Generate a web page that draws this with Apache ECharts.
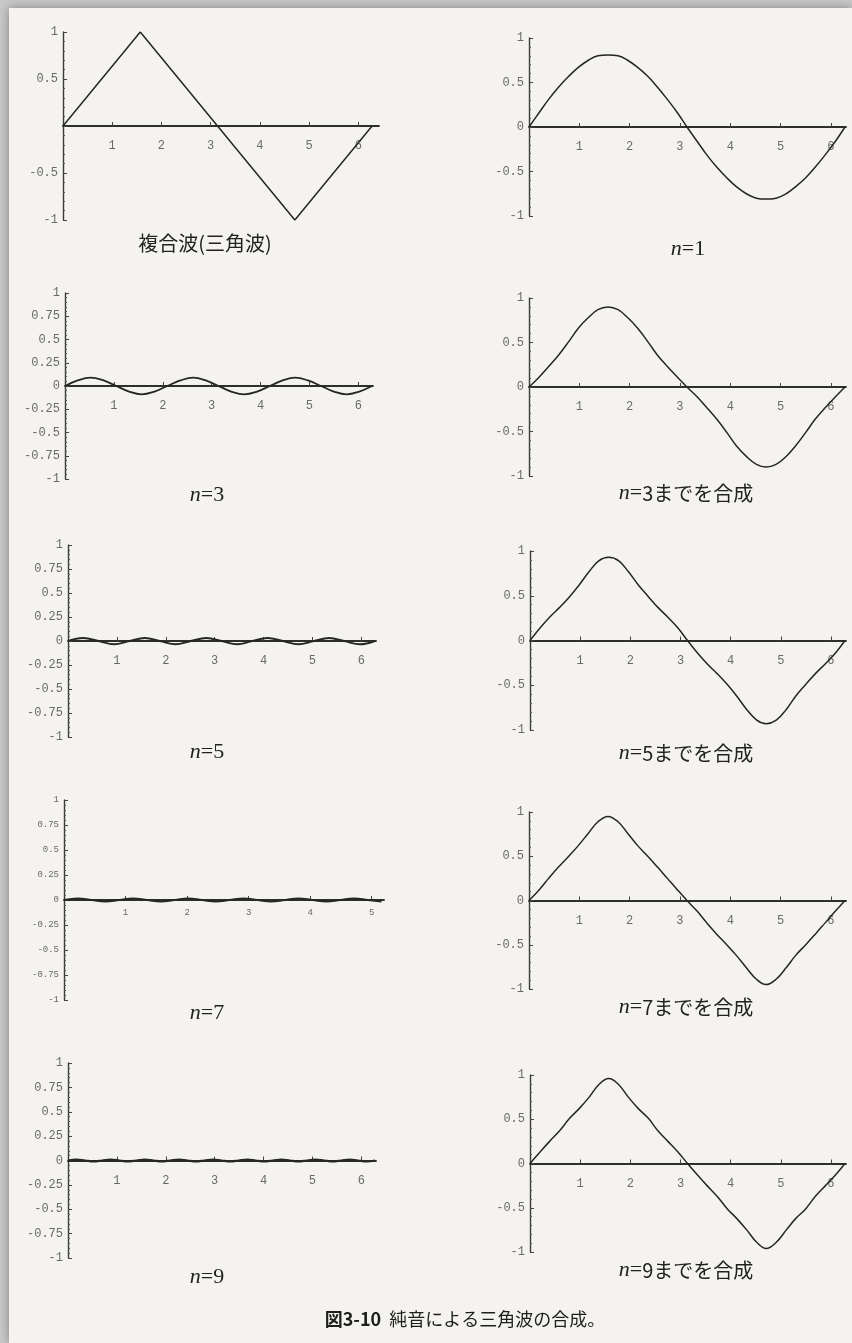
<!DOCTYPE html>
<html>
<head>
<meta charset="utf-8">
<title>図3-10 純音による三角波の合成</title>
<script src="https://cdn.jsdelivr.net/npm/echarts@6/dist/echarts.min.js"></script>
<style>
  html, body { margin: 0; padding: 0; background: #c9c9c9; }
  #chart { width: 852px; height: 1343px; }
</style>
</head>
<body>
<div id="chart"></div>
<script>
// ---- data ----
// triangle wave (complex wave)
var triX = [0, 1.57, 4.71, 6.28];
var triY = [0, 1, -1, 0];

// x positions (radians) for the synthesized curves
var xSum = [0, 0.20, 0.39, 0.59, 0.79, 0.98, 1.18, 1.37, 1.57, 1.77, 1.96, 2.16, 2.36, 2.55, 2.75, 2.95, 3.14,
            3.34, 3.53, 3.73, 3.93, 4.12, 4.32, 4.52, 4.71, 4.91, 5.11, 5.30, 5.50, 5.69, 5.89, 6.09, 6.28];
var sum1 = [0, 0.16, 0.31, 0.45, 0.57, 0.67, 0.75, 0.80, 0.81, 0.80, 0.75, 0.67, 0.57, 0.45, 0.31, 0.16, 0,
            -0.16, -0.31, -0.45, -0.57, -0.67, -0.75, -0.80, -0.81, -0.80, -0.75, -0.67, -0.57, -0.45, -0.31, -0.16, 0];
var sum3 = [0, 0.11, 0.23, 0.36, 0.51, 0.66, 0.78, 0.87, 0.90, 0.87, 0.78, 0.66, 0.51, 0.36, 0.23, 0.11, 0,
            -0.11, -0.23, -0.36, -0.51, -0.66, -0.78, -0.87, -0.90, -0.87, -0.78, -0.66, -0.51, -0.36, -0.23, -0.11, 0];
var sum5 = [0, 0.14, 0.26, 0.37, 0.49, 0.62, 0.77, 0.89, 0.93, 0.89, 0.77, 0.62, 0.49, 0.37, 0.26, 0.14, 0,
            -0.14, -0.26, -0.37, -0.49, -0.62, -0.77, -0.89, -0.93, -0.89, -0.77, -0.62, -0.49, -0.37, -0.26, -0.14, 0];
var sum7 = [0, 0.12, 0.25, 0.38, 0.50, 0.62, 0.76, 0.89, 0.95, 0.89, 0.76, 0.62, 0.50, 0.38, 0.25, 0.12, 0,
            -0.12, -0.25, -0.38, -0.50, -0.62, -0.76, -0.89, -0.95, -0.89, -0.76, -0.62, -0.50, -0.38, -0.25, -0.12, 0];
var sum9 = [0, 0.13, 0.25, 0.37, 0.51, 0.62, 0.75, 0.89, 0.96, 0.89, 0.75, 0.62, 0.51, 0.37, 0.25, 0.13, 0,
            -0.13, -0.25, -0.37, -0.51, -0.62, -0.75, -0.89, -0.96, -0.89, -0.75, -0.62, -0.51, -0.37, -0.25, -0.13, 0];

// single components
var x3 = [0, 0.26, 0.52, 0.79, 1.05, 1.31, 1.57, 1.83, 2.09, 2.36, 2.62, 2.88, 3.14, 3.40, 3.67, 3.93, 4.19,
          4.45, 4.71, 4.97, 5.24, 5.50, 5.76, 6.02, 6.28];
var comp3 = [0, 0.06, 0.09, 0.06, 0, -0.06, -0.09, -0.06, 0, 0.06, 0.09, 0.06, 0, -0.06, -0.09, -0.06, 0,
             0.06, 0.09, 0.06, 0, -0.06, -0.09, -0.06, 0];
var x5 = [0, 0.31, 0.63, 0.94, 1.26, 1.57, 1.88, 2.20, 2.51, 2.83, 3.14, 3.46, 3.77, 4.08, 4.40, 4.71, 5.03,
          5.34, 5.65, 5.97, 6.28];
var comp5 = [0, 0.03, 0, -0.035, 0, 0.03, 0, -0.035, 0, 0.03, 0, -0.035, 0, 0.03, 0, -0.035, 0, 0.03, 0, -0.035, 0];
var x7 = [0, 0.22, 0.45, 0.67, 0.90, 1.12, 1.35, 1.57, 1.80, 2.02, 2.24, 2.47, 2.69, 2.92, 3.14, 3.37, 3.59,
          3.81, 4.04, 4.26, 4.49, 4.71, 4.94, 5.16];
var comp7 = [0, 0.015, 0, -0.015, 0, 0.015, 0, -0.015, 0, 0.015, 0, -0.015, 0, 0.015, 0, -0.015,
             0, 0.015, 0, -0.015, 0, 0.015, 0, -0.015];
var x9 = [0, 0.17, 0.35, 0.52, 0.70, 0.87, 1.05, 1.22, 1.40, 1.57, 1.75, 1.92, 2.09, 2.27, 2.44, 2.62, 2.79,
          2.97, 3.14, 3.32, 3.49, 3.67, 3.84, 4.01, 4.19, 4.36, 4.54, 4.71, 4.89, 5.06, 5.24, 5.41, 5.59,
          5.76, 5.93, 6.11, 6.28];
var comp9 = [0, 0.01, 0, -0.01, 0, 0.01, 0, -0.01, 0, 0.01, 0, -0.01, 0, 0.01, 0, -0.01, 0, 0.01, 0, -0.01,
             0, 0.01, 0, -0.01, 0, 0.01, 0, -0.01, 0, 0.01, 0, -0.01, 0, 0.01, 0, -0.01, 0];

var xTicks = [1, 2, 3, 4, 5, 6];
var xTicks7 = [1, 2, 3, 4, 5];

// ---- layout of the ten panels ----
var panels = [
  {left: 63,  top: 32,   w: 316, h: 188, xMax: 6.42, xt: xTicks,  step: 0.5,  hideZero: true, xs: triX, ys: triY, smooth: false, lw: 1.5, fs: 12,
   cap: '{j|複合波(三角波)}', cx: 205, cy: 243},
  {left: 529, top: 38,   w: 317, h: 178, xMax: 6.3,  xt: xTicks,  step: 0.5,  xs: xSum, ys: sum1, smooth: true, lw: 1.5, fs: 12,
   cap: '{i|n}{s|=1}', cx: 688, cy: 249},
  {left: 65,  top: 293,  w: 308, h: 186, xMax: 6.3,  xt: xTicks,  step: 0.25, xs: x3, ys: comp3, smooth: true, lw: 1.8, fs: 12,
   cap: '{i|n}{s|=3}', cx: 207, cy: 495},
  {left: 529, top: 298,  w: 317, h: 178, xMax: 6.3,  xt: xTicks,  step: 0.5,  xs: xSum, ys: sum3, smooth: true, lw: 1.5, fs: 12,
   cap: '{i|n}{s|=}{j|3までを合成}', cx: 686, cy: 493},
  {left: 68,  top: 545,  w: 308, h: 192, xMax: 6.3,  xt: xTicks,  step: 0.25, xs: x5, ys: comp5, smooth: true, lw: 2, fs: 12,
   cap: '{i|n}{s|=5}', cx: 207, cy: 752},
  {left: 530, top: 551,  w: 316, h: 179, xMax: 6.3,  xt: xTicks,  step: 0.5,  xs: xSum, ys: sum5, smooth: true, lw: 1.5, fs: 12,
   cap: '{i|n}{s|=}{j|5までを合成}', cx: 686, cy: 753},
  {left: 64,  top: 800,  w: 320, h: 200, xMax: 5.2,  xt: xTicks7, step: 0.25, xs: x7, ys: comp7, smooth: true, lw: 2.2, fs: 9,
   cap: '{i|n}{s|=7}', cx: 207, cy: 1013},
  {left: 529, top: 812,  w: 317, h: 177, xMax: 6.3,  xt: xTicks,  step: 0.5,  xs: xSum, ys: sum7, smooth: true, lw: 1.5, fs: 12,
   cap: '{i|n}{s|=}{j|7までを合成}', cx: 686, cy: 1007},
  {left: 68,  top: 1063, w: 308, h: 195, xMax: 6.3,  xt: xTicks,  step: 0.25, xs: x9, ys: comp9, smooth: true, lw: 2.2, fs: 12,
   cap: '{i|n}{s|=9}', cx: 207, cy: 1277},
  {left: 530, top: 1075, w: 316, h: 177, xMax: 6.3,  xt: xTicks,  step: 0.5,  xs: xSum, ys: sum9, smooth: true, lw: 1.5, fs: 12,
   cap: '{i|n}{s|=}{j|9までを合成}', cx: 686, cy: 1270}
];

function pairs(xs, ys) {
  return xs.map(function (x, i) { return [x, ys[i]]; });
}

var capRich = {
  i: {fontFamily: 'Liberation Serif', fontStyle: 'italic', fontSize: 22, fill: '#222'},
  s: {fontFamily: 'Liberation Serif', fontSize: 22, fill: '#222'},
  j: {fontFamily: 'Noto Sans CJK JP', fontSize: 20, fill: '#222'}
};

var grids = [], xAxes = [], yAxes = [], series = [];
var graphics = [{
  type: 'rect', z: -10, silent: true,
  shape: {x: 9, y: 8, width: 843, height: 1335},
  style: {fill: '#f4f3ef', shadowBlur: 10, shadowColor: 'rgba(0,0,0,0.35)'}
}];

panels.forEach(function (p, i) {
  grids.push({left: p.left, top: p.top, width: p.w, height: p.h});
  // the x axis crosses at y = 0, i.e. the middle of the grid
  xAxes.push({
    gridIndex: i, type: 'value', min: 0, max: p.xMax, position: 'bottom', offset: -p.h / 2,
    axisLine: {onZero: false, lineStyle: {color: '#2e2e2e', width: 1.8}},
    axisTick: {show: true, inside: true, length: 4, customValues: p.xt, lineStyle: {color: '#444'}},
    axisLabel: {customValues: p.xt, margin: p.fs < 10 ? 8 : 14, fontFamily: 'Liberation Mono', fontSize: p.fs, color: '#6a6a6a'},
    splitLine: {show: false}
  });
  yAxes.push({
    gridIndex: i, type: 'value', min: -1, max: 1, interval: p.step,
    axisLine: {show: true, onZero: false, lineStyle: {color: '#3a3a3a', width: 1.4}},
    axisTick: {show: true, inside: true, length: 4, lineStyle: {color: '#444'}},
    minorTick: {show: true, splitNumber: 5, length: 2, lineStyle: {color: '#555'}},
    axisLabel: {
      margin: 5, fontFamily: 'Liberation Mono', fontSize: p.fs, color: '#6a6a6a',
      formatter: function (v) { return (p.hideZero && v === 0) ? '' : String(v); }
    },
    splitLine: {show: false}
  });
  series.push({
    type: 'line', xAxisIndex: i, yAxisIndex: i,
    data: pairs(p.xs, p.ys),
    showSymbol: false, smooth: p.smooth ? 0.4 : false, silent: true,
    lineStyle: {color: '#262626', width: p.lw}
  });
  graphics.push({
    type: 'text', x: p.cx, y: p.cy, silent: true,
    style: {text: p.cap, rich: capRich, align: 'center', verticalAlign: 'middle'}
  });
});

// figure caption
graphics.push({
  type: 'text', x: 465, y: 1319, silent: true,
  style: {
    text: '{b|図3-10}{t|  純音による三角波の合成。}', align: 'center', verticalAlign: 'middle',
    rich: {
      b: {fontFamily: 'Noto Sans CJK JP', fontWeight: 'bold', fontSize: 18, fill: '#1e1e1e'},
      t: {fontFamily: 'Noto Sans CJK JP', fontSize: 18, fill: '#1e1e1e'}
    }
  }
});

var myChart = echarts.init(document.getElementById('chart'));
myChart.setOption({
  animation: false,
  backgroundColor: '#c9c9c9',
  grid: grids,
  xAxis: xAxes,
  yAxis: yAxes,
  series: series,
  graphic: graphics
});
</script>
</body>
</html>
